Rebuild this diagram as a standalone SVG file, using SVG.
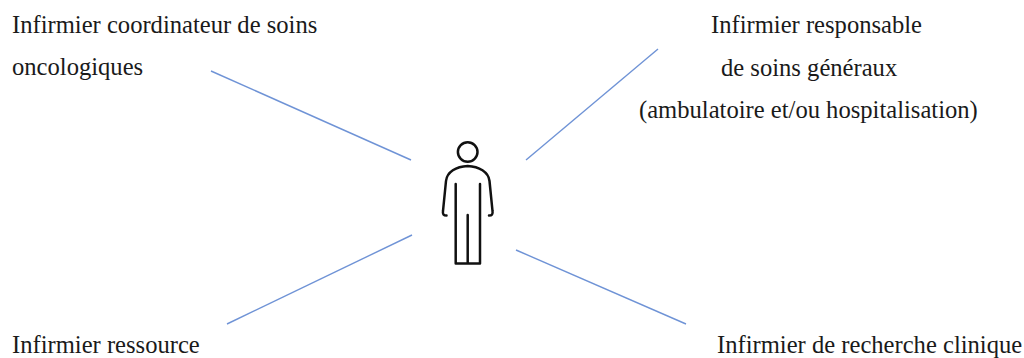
<svg xmlns="http://www.w3.org/2000/svg" width="1024" height="358" viewBox="0 0 1024 358">
<style>
text{font-family:"Liberation Serif","Times New Roman",serif;font-size:24.6px;fill:#1a1a1a}
.c{fill:none;stroke:#6f93d6;stroke-width:1.4}
.p{fill:none;stroke:#111;stroke-width:2.5;stroke-linecap:round;stroke-linejoin:round}
</style>
<rect width="1024" height="358" fill="#fff"/>
<g id="connectors">
<line class="c" x1="211" y1="71" x2="411" y2="160"/>
<line class="c" x1="658" y1="49" x2="526" y2="160"/>
<line class="c" x1="412" y1="235" x2="227" y2="324"/>
<line class="c" x1="516" y1="250" x2="686" y2="324"/>
</g>
<g id="person">
<circle class="p" cx="467.700" cy="152" r="9.800"/>
<path class="p" d="M446.500 215.500C443.500 215.500 442.500 214 443 211L446 181C447 172 456 166.500 467.700 166C479 166.500 488.500 172 489.500 181L492.500 211C493 214 492 215.500 489 215.500"/>
<path class="p" d="M455.700 184V263.500H480V184M467.700 215V263.500"/>
</g>
<g id="n1"><text x="12" y="33">Infirmier coordinateur de soins</text><text x="12" y="75">oncologiques</text></g>
<g id="n2"><text x="711" y="33">Infirmier responsable</text><text x="721" y="76">de soins généraux</text><text x="639" y="118">(ambulatoire et/ou hospitalisation)</text></g>
<g id="n3"><text x="12" y="353">Infirmier ressource</text></g>
<g id="n4"><text x="717" y="353">Infirmier de recherche clinique</text></g>
</svg>
